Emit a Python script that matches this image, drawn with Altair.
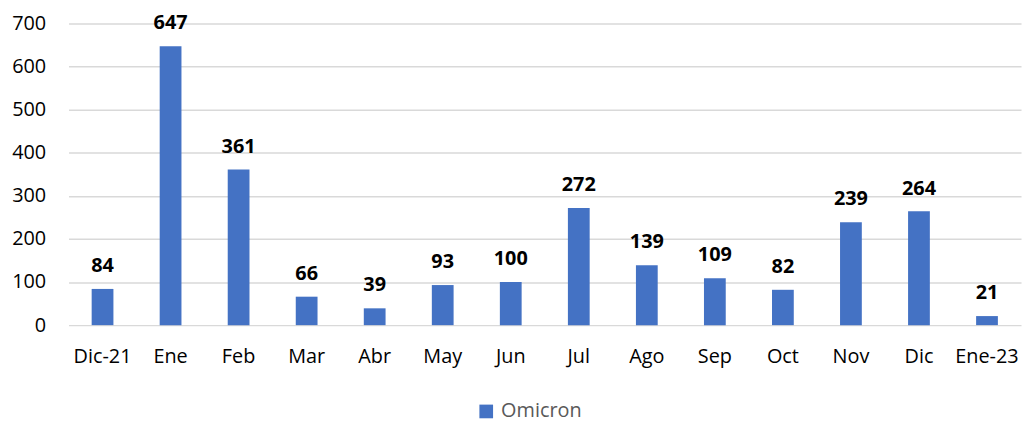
import altair as alt
import pandas as pd

months = ["Dic-21", "Ene", "Feb", "Mar", "Abr", "May", "Jun", "Jul", "Ago", "Sep", "Oct", "Nov", "Dic", "Ene-23"]
values = [84, 647, 361, 66, 39, 93, 100, 272, 139, 109, 82, 239, 264, 21]
series = ["Omicron"] * len(months)

df = pd.DataFrame({"mes": months, "casos": values, "serie": series})

FONT = "Open Sans"

x = alt.X("mes:N", sort=months, title=None,
          scale=alt.Scale(paddingInner=0.68, paddingOuter=0.34),
          axis=alt.Axis(labelAngle=0, labelFontSize=20, labelFont=FONT, labelColor="#000000",
                        labelFontWeight="normal",
                        labelPadding=22, ticks=False, domain=False, grid=False))

bars = alt.Chart(df).mark_bar(color="#4472C4").encode(
    x=x,
    y=alt.Y("casos:Q", title=None,
            scale=alt.Scale(domain=[0, 700]),
            axis=alt.Axis(values=[0, 100, 200, 300, 400, 500, 600, 700], labelFontSize=20,
                          labelFont=FONT, labelColor="#000000", labelPadding=23,
                          labelFontWeight="normal",
                          ticks=False, domain=False, gridColor="#D9D9D9", gridWidth=1.5)),
    color=alt.Color("serie:N", title=None,
                    scale=alt.Scale(range=["#4472C4"]),
                    legend=alt.Legend(orient="none", legendX=411, legendY=381,
                                      symbolType="square", symbolSize=190,
                                      symbolStrokeWidth=0,
                                      labelFontSize=20, labelFont=FONT, labelColor="#595959",
                                      labelFontWeight="normal",
                                      labelOffset=5)),
)

labels = alt.Chart(df).mark_text(fontSize=20, font=FONT, fontWeight="bold", color="#000000",
                                 baseline="alphabetic", dy=-17).encode(
    x=alt.X("mes:N", sort=months),
    y="casos:Q",
    text="casos:Q",
)

chart = (bars + labels).properties(
    width=960, height=304,
    autosize=alt.AutoSizeParams(type="none"),
    padding={"left": 61, "top": 14, "right": 2, "bottom": 95},
).configure_view(stroke=None)

chart.save("out.html", embed_options={"renderer": "svg", "actions": False})
